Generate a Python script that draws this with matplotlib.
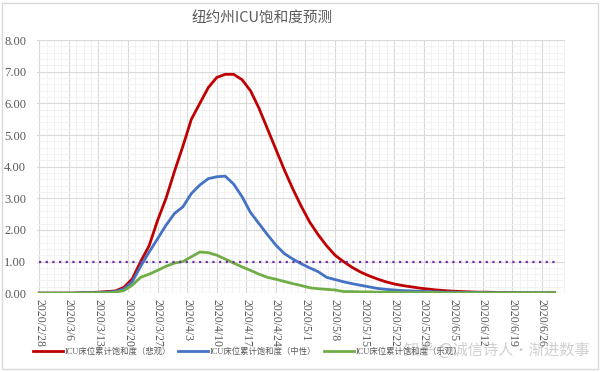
import matplotlib
matplotlib.use('Agg')
import matplotlib.pyplot as plt
from matplotlib.ticker import MultipleLocator, FixedLocator, FuncFormatter
from matplotlib.patches import Rectangle
import matplotlib.dates as mdates
import pandas as pd

# every second day from 2020/2/28
dates = pd.date_range('2020-02-28', periods=62, freq='2D')

pessimistic = [0, 0, 0, 0, 0, 0.01, 0.02, 0.03, 0.05, 0.07,
               0.18, 0.45, 1.0, 1.5, 2.3, 3.0, 3.85, 4.65, 5.5, 6.0,
               6.5, 6.82, 6.92, 6.92, 6.75, 6.4, 5.85, 5.2, 4.55, 3.9,
               3.3, 2.75, 2.25, 1.85, 1.5, 1.2, 1.0, 0.82, 0.67, 0.55,
               0.45, 0.36, 0.29, 0.24, 0.2, 0.16, 0.13, 0.1, 0.08, 0.06,
               0.05, 0.04, 0.03, 0.03, 0.02, 0.02, 0.02, 0.01, 0.01, 0.01,
               0.01, 0.01]
neutral = [0, 0, 0, 0, 0, 0.01, 0.01, 0.02, 0.03, 0.05,
           0.13, 0.36, 0.85, 1.3, 1.72, 2.15, 2.52, 2.73, 3.15, 3.42,
           3.62, 3.68, 3.7, 3.45, 3.05, 2.55, 2.2, 1.85, 1.52, 1.25,
           1.08, 0.93, 0.8, 0.68, 0.5, 0.43, 0.36, 0.3, 0.25, 0.2,
           0.15, 0.12, 0.1, 0.08, 0.07, 0.06, 0.05, 0.04, 0.03, 0.03,
           0.02, 0.02, 0.02, 0.01, 0.01, 0.01, 0.01, 0.01, 0.01, 0.01,
           0.01, 0.01]
optimistic = [0, 0, 0, 0, 0, 0, 0.01, 0.01, 0.01, 0.03,
              0.08, 0.25, 0.5, 0.6, 0.72, 0.85, 0.95, 1.0, 1.15, 1.3,
              1.28, 1.2, 1.08, 0.95, 0.83, 0.72, 0.6, 0.5, 0.44, 0.37,
              0.3, 0.24, 0.17, 0.14, 0.12, 0.1, 0.05, 0.05, 0.04, 0.04,
              0.03, 0.03, 0.03, 0.02, 0.02, 0.02, 0.02, 0.02, 0.01, 0.01,
              0.01, 0.01, 0.01, 0.01, 0.01, 0.01, 0.01, 0.01, 0.01, 0.01,
              0.01, 0.01]
threshold = 1.0

labels = ['ICU床位累计饱和度（悲观）', 'ICU床位累计饱和度（中性）', 'ICU床位累计饱和度（乐观）']
colors = ['#C00000', '#4472C4', '#70AD47']

tick_dates = pd.date_range('2020-02-28', '2020-06-26', freq='7D')
tick_labels = [f"{d.year}/{d.month}/{d.day}" for d in tick_dates]

plt.rcParams['font.family'] = ['Liberation Serif', 'Noto Sans CJK SC', 'DejaVu Sans']

fig = plt.figure(figsize=(6, 3.72), dpi=100)
ax = fig.add_axes([0.062, 0.212, 0.88, 0.68])

for vals, lab, c in zip([pessimistic, neutral, optimistic], labels, colors):
    ax.plot(dates, vals, color=c, linewidth=2, label=lab)
ax.hlines(threshold, dates[0], dates[-1], colors='#7030A0', linestyles=(0, (1, 2)), linewidth=1.6)

ax.set_ylim(0, 8)
ax.set_xlim(pd.Timestamp('2020-02-27 12:00'), pd.Timestamp('2020-07-01 12:00'))
ax.yaxis.set_major_locator(MultipleLocator(1))
ax.yaxis.set_minor_locator(MultipleLocator(0.2))
ax.yaxis.set_major_formatter(FuncFormatter(lambda v, p: f"{v:.2f}"))
ax.set_xticks(tick_dates)
ax.set_xticklabels(tick_labels, rotation=-90, fontsize=8.5, color='#595959')
ax.xaxis.set_minor_locator(FixedLocator(
    [mdates.date2num(d) + k * 1.75 for d in tick_dates for k in (1, 2, 3)]))
ax.tick_params(axis='y', labelsize=9, labelcolor='#595959', length=0, pad=8)
ax.tick_params(axis='x', length=0, pad=4)
ax.tick_params(which='minor', length=0)

ax.grid(which='major', color='#D9D9D9', linewidth=0.8)
ax.grid(which='minor', color='#F0F0F0', linewidth=0.6)
ax.set_axisbelow(True)
for s in ax.spines.values():
    s.set_visible(False)

fig.text(0.437, 0.953, '纽约州ICU饱和度预测', ha='center', va='center',
         fontsize=10.5, color='#595959', family=['Noto Sans CJK SC', 'DejaVu Sans'])

fig.legend(loc='center left', bbox_to_anchor=(0.042, 0.056), ncol=3, frameon=False,
           handlelength=3.6, handletextpad=0.2, columnspacing=0.9,
           labelcolor='#595959', prop={'family': ['Liberation Serif', 'Noto Sans CJK SC'], 'size': 6})

# watermark
fig.text(0.983, 0.058, '知乎 @诚信诗人·渐进数事', ha='right', va='center', fontsize=11,
         color='#C8C8C8', alpha=0.85, family=['Noto Sans CJK SC', 'DejaVu Sans'])

fig.patches.append(Rectangle((0.004, 0.008), 0.992, 0.985, transform=fig.transFigure,
                             fill=False, edgecolor='#D9D9D9', linewidth=1))

plt.savefig('out.png', dpi=100)
plt.close()
